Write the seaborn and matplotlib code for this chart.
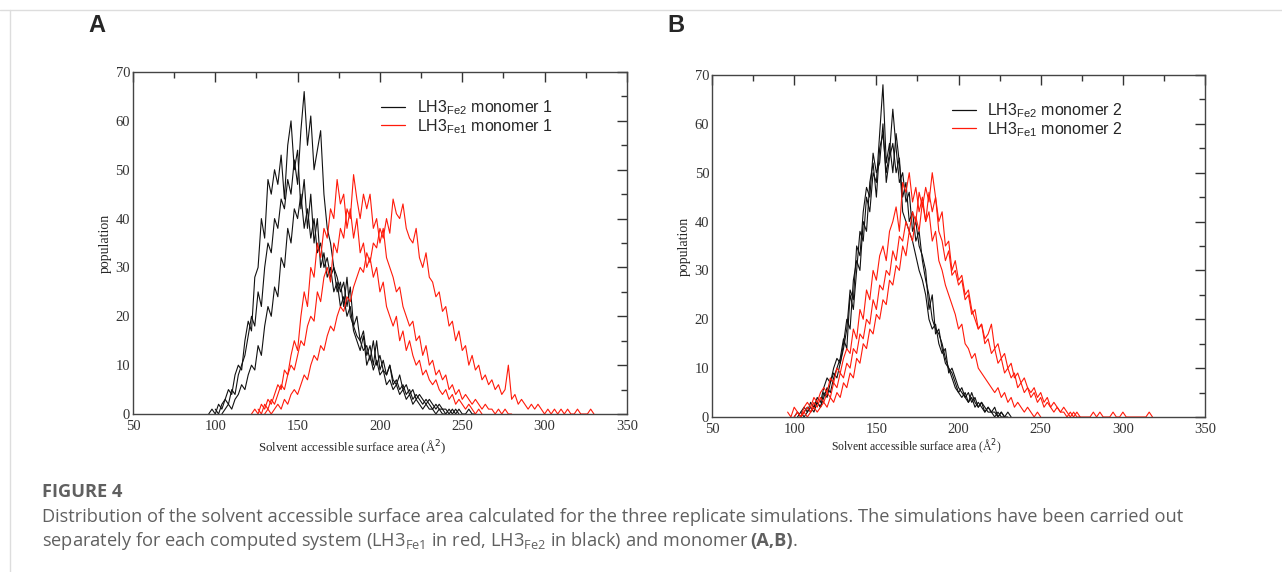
import numpy as np
import pandas as pd
import matplotlib
matplotlib.use("Agg")
import matplotlib.pyplot as plt
from matplotlib.lines import Line2D
import seaborn as sns

sns.set_style("white")
plt.rcParams['font.family'] = ['Liberation Serif', 'DejaVu Serif']

# bin width of the SASA histograms (A^2)
bin_step = 2

# --- monomer 1 (panel A): (first bin centre, populations) per replicate
fe2_m1 = [
    (96, [0, 1, 0, 2, 1, 3, 5, 4, 8, 10, 9, 15, 19, 17, 28, 30, 40, 36, 48, 45, 50, 47, 53, 44, 55, 60, 50, 54,
          42, 48, 38, 45, 35, 40, 30, 33, 28, 30, 25, 27, 22, 24, 20, 22, 17, 15, 13, 16, 10, 12, 9, 11, 8, 9, 6,
          7, 5, 6, 4, 5, 3, 4, 2, 3, 2, 1, 2, 1, 1, 0, 1, 0, 0]),
    (100, [1, 0, 2, 3, 2, 5, 4, 8, 10, 12, 16, 20, 18, 25, 22, 30, 35, 33, 40, 38, 44, 42, 48, 45, 52, 47, 58,
           66, 55, 61, 50, 54, 58, 45, 38, 35, 30, 28, 25, 27, 22, 26, 18, 20, 15, 17, 12, 14, 10, 15, 9, 11, 8,
           10, 6, 7, 5, 6, 4, 5, 3, 4, 3, 2, 3, 2, 1, 2, 1, 1, 0, 1, 0, 1, 0]),
    (104, [0, 1, 2, 1, 3, 4, 6, 5, 8, 10, 9, 14, 12, 18, 22, 20, 26, 24, 32, 30, 38, 35, 42, 40, 45, 38, 42, 36,
           40, 33, 35, 30, 32, 28, 30, 25, 27, 22, 28, 20, 18, 16, 15, 13, 14, 11, 15, 10, 12, 9, 8, 10, 7, 6, 8,
           5, 6, 4, 5, 3, 4, 3, 2, 3, 2, 1, 2, 1, 1, 0, 1, 0, 1, 0, 0, 1, 0, 0]),
]
fe1_m1 = [
    (122, [0, 1, 0, 2, 1, 3, 2, 4, 6, 5, 9, 8, 12, 15, 13, 20, 25, 22, 30, 28, 35, 32, 38, 36, 42, 40, 48, 43,
           45, 38, 42, 36, 40, 33, 35, 30, 32, 28, 30, 25, 27, 22, 20, 18, 20, 15, 17, 13, 15, 12, 10, 11, 8, 9,
           7, 6, 7, 5, 4, 5, 3, 4, 2, 3, 2, 1, 2, 1, 0, 1, 0]),
    (126, [1, 0, 2, 1, 3, 2, 4, 6, 5, 8, 10, 9, 12, 15, 14, 18, 20, 19, 25, 23, 28, 30, 27, 35, 33, 38, 36, 42,
           40, 49, 44, 40, 45, 42, 45, 38, 40, 35, 38, 32, 30, 28, 25, 26, 22, 20, 18, 19, 15, 16, 12, 14, 10, 11,
           8, 9, 7, 8, 5, 6, 4, 5, 3, 4, 3, 2, 3, 2, 1, 2, 1, 1, 0, 1, 0, 1, 0, 0]),
    (130, [0, 1, 0, 1, 2, 1, 3, 2, 4, 5, 4, 6, 8, 7, 10, 12, 11, 14, 13, 16, 18, 17, 20, 22, 21, 24, 23, 26, 28,
           30, 29, 33, 31, 35, 34, 38, 36, 40, 37, 44, 41, 40, 43, 38, 36, 35, 38, 32, 30, 33, 28, 27, 24, 25, 21,
           22, 18, 19, 15, 17, 13, 14, 10, 12, 9, 10, 7, 8, 6, 7, 5, 6, 4, 5, 10, 3, 4, 2, 3, 2, 1, 2, 1, 2, 1, 0,
           1, 0, 1, 0, 1, 0, 1, 0, 0, 1, 0, 0, 0, 1, 0]),
]

# --- monomer 2 (panel B)
fe2_m2 = [
    (100, [0, 1, 0, 1, 2, 1, 2, 3, 2, 4, 6, 5, 8, 10, 12, 16, 14, 25, 22, 30, 38, 36, 45, 42, 50, 48, 58, 68,
           52, 56, 50, 58, 52, 45, 48, 40, 42, 36, 38, 32, 28, 25, 20, 18, 17, 15, 12, 10, 8, 6, 5, 6, 4, 5, 3,
           4, 2, 3, 1, 2, 1, 1, 0, 1, 0, 0]),
    (104, [1, 0, 1, 2, 1, 3, 2, 5, 4, 7, 9, 8, 11, 15, 20, 18, 28, 32, 30, 40, 38, 48, 52, 45, 55, 58, 50, 54,
           63, 55, 48, 50, 44, 46, 38, 40, 35, 33, 30, 22, 25, 17, 18, 14, 11, 10, 9, 7, 5, 4, 5, 3, 4, 2, 3, 2,
           1, 2, 1, 0, 1, 0, 0, 1, 0]),
    (102, [0, 1, 2, 1, 3, 2, 4, 3, 6, 8, 7, 10, 12, 11, 14, 18, 26, 24, 35, 33, 42, 47, 45, 54, 50, 52, 60, 48,
           53, 56, 50, 53, 42, 40, 38, 36, 33, 30, 28, 25, 20, 18, 19, 15, 13, 14, 9, 10, 8, 6, 5, 4, 3, 5, 3, 2,
           3, 2, 1, 1, 2, 0, 1, 0]),
]
fe1_m2 = [
    (96, [1, 0, 2, 1, 0, 2, 3, 2, 4, 3, 5, 6, 5, 8, 7, 10, 9, 12, 14, 13, 18, 16, 22, 20, 26, 24, 30, 28, 33,
          35, 32, 38, 40, 43, 38, 48, 46, 50, 44, 47, 42, 45, 40, 42, 36, 38, 32, 30, 27, 25, 23, 21, 18, 19, 15,
          14, 12, 13, 10, 9, 8, 7, 6, 5, 6, 4, 5, 3, 4, 2, 3, 2, 1, 2, 1, 0, 1, 0]),
    (100, [0, 1, 0, 1, 2, 1, 3, 2, 4, 3, 5, 4, 7, 6, 9, 8, 11, 10, 14, 13, 17, 16, 20, 19, 24, 22, 27, 26, 30,
           29, 34, 32, 37, 36, 40, 38, 42, 40, 46, 43, 47, 44, 50, 45, 40, 42, 35, 36, 30, 32, 28, 29, 25, 26, 22,
           20, 18, 19, 15, 16, 13, 14, 11, 12, 9, 10, 8, 9, 6, 7, 5, 6, 4, 5, 3, 4, 2, 3, 2, 1, 2, 1, 1, 0, 1, 0,
           1, 0]),
    (104, [0, 1, 0, 1, 2, 1, 2, 3, 2, 4, 3, 5, 4, 7, 6, 9, 8, 12, 11, 15, 14, 18, 17, 21, 20, 24, 23, 28, 27,
           31, 30, 35, 33, 38, 36, 41, 38, 44, 40, 46, 42, 45, 38, 36, 32, 34, 29, 30, 27, 28, 24, 25, 21, 22, 18,
           19, 16, 17, 19, 14, 15, 12, 13, 10, 11, 8, 9, 7, 8, 6, 5, 6, 4, 5, 3, 4, 2, 3, 2, 1, 2, 1, 0, 1, 0, 0,
           0, 0, 0, 1, 0, 1, 0, 0, 0, 1, 0, 0, 1, 0, 0, 0, 0, 0, 0, 0, 1, 0]),
]

panels = [
    ("A", "monomer 1", fe2_m1, fe1_m1),
    ("B", "monomer 2", fe2_m2, fe1_m2),
]


def to_frame(fe2, fe1):
    rows = []
    for system, reps in (("Fe2", fe2), ("Fe1", fe1)):
        for r, (start, vals) in enumerate(reps):
            for i, v in enumerate(vals):
                rows.append((system, f"{system}-{r}", start + bin_step * i, v))
    return pd.DataFrame(rows, columns=["system", "rep", "sasa", "population"])


fig = plt.figure(figsize=(12.82, 5.72), dpi=100)
axes_pos = [[0.1037, 0.2762, 0.3853, 0.5979], [0.5554, 0.2710, 0.3846, 0.5979]]
legend_x = [0.474, 0.4576]
xlabel_style = [(0.445, -0.10, 9.3), (0.414, -0.09, 8.4)]
palette = {"Fe2": "#111111", "Fe1": "#ff1a0a"}

for (letter, mono, fe2, fe1), pos, lx, (xl_x, xl_y, xl_fs) in zip(panels, axes_pos, legend_x, xlabel_style):
    ax = fig.add_axes(pos)
    df = to_frame(fe2, fe1)
    sns.lineplot(data=df, x="sasa", y="population", hue="system", units="rep",
                 estimator=None, palette=palette, lw=0.8, legend=False, ax=ax)
    ax.set_xlim(50, 350)
    ax.set_ylim(0, 70)
    ax.set_xticks(np.arange(50, 351, 50))
    ax.set_xticks(np.arange(50, 351, 25), minor=True)
    ax.set_yticks(np.arange(0, 71, 10))
    ax.set_yticks(np.arange(0, 71, 5), minor=True)
    ax.tick_params(which="both", direction="in", top=True, right=True, labelsize=10.5,
                   colors="#333333", pad=2)
    ax.tick_params(axis="x", pad=4)
    ax.tick_params(which="major", length=7, width=1)
    ax.tick_params(which="minor", length=4, width=1)
    for s in ax.spines.values():
        s.set_color("#444444")
        s.set_linewidth(1)
    ax.set_xlabel("Solvent accessible surface area (Å$^2$)", fontsize=xl_fs, va="center")
    ax.xaxis.set_label_coords(xl_x, xl_y)
    ax.set_ylabel("population", fontsize=10, labelpad=3)

    handles = [Line2D([], [], color=palette["Fe2"], lw=0.9),
               Line2D([], [], color=palette["Fe1"], lw=0.9)]
    labels = [r"LH3$_{\mathregular{Fe2}}$ " + mono, r"LH3$_{\mathregular{Fe1}}$ " + mono]
    ax.legend(handles, labels, loc="upper left", bbox_to_anchor=(lx, 0.965), frameon=False,
              handlelength=1.5, handletextpad=0.7, labelspacing=0.0,
              prop={"family": "Liberation Sans", "size": 11.5})

    fig.text(pos[0] - 0.035, 0.955, letter, fontsize=17, fontweight="bold",
             family="Liberation Sans", va="center", ha="left")

# caption
cap_x = 0.0328
cap_kw = dict(fontsize=13.15, color="#606060", family="Open Sans", va="center")
fig.text(cap_x, 0.14, "FIGURE 4", fontweight="bold", **cap_kw)
fig.text(cap_x, 0.096,
         "Distribution of the solvent accessible surface area calculated for the three replicate simulations. "
         "The simulations have been carried out", **cap_kw)
t2 = fig.text(cap_x, 0.054,
              r"separately for each computed system (LH3$_{\mathregular{Fe1}}$ in red, LH3$_{\mathregular{Fe2}}$ "
              r"in black) and monomer", **cap_kw)
renderer = fig.canvas.get_renderer()
bb = t2.get_window_extent(renderer).transformed(fig.transFigure.inverted())
t3 = fig.text(bb.x1 + 0.0012, 0.054, "(A,B)", fontweight="bold", **cap_kw)
bb3 = t3.get_window_extent(renderer).transformed(fig.transFigure.inverted())
fig.text(bb3.x1, 0.054, ".", **cap_kw)

# page frame lines
fig.add_artist(Line2D([0, 1], [0.983, 0.983], color="#dddddd", lw=1, transform=fig.transFigure))
fig.add_artist(Line2D([0.008, 0.008], [0, 0.983], color="#dddddd", lw=1, transform=fig.transFigure))

fig.savefig("out.png", dpi=100)
